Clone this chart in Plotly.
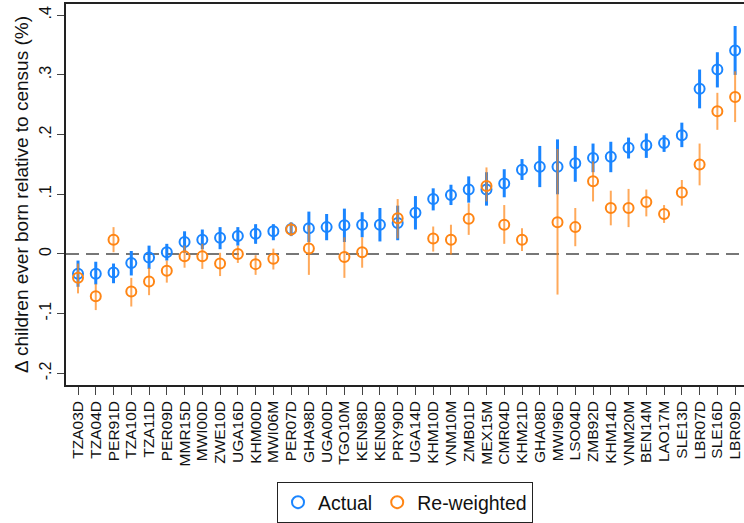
import numpy as np
import plotly.graph_objects as go

# Survey codes, ordered by the actual gap
surveys = ["TZA03D", "TZA04D", "PER91D", "TZA10D", "TZA11D", "PER09D", "MMR15D",
           "MWI00D", "ZWE10D", "UGA16D", "KHM00D", "MWI06M", "PER07D", "GHA98D",
           "UGA00D", "TGO10M", "KEN98D", "KEN08D", "PRY90D", "UGA14D", "KHM10D",
           "VNM10M", "ZMB01D", "MEX15M", "CMR04D", "KHM21D", "GHA08D", "MWI96D",
           "LSO04D", "ZMB92D", "KHM14D", "VNM20M", "BEN14M", "LAO17M", "SLE13D",
           "LBR07D", "SLE16D", "LBR09D"]

# Actual difference with confidence interval
actual = [-0.033, -0.033, -0.031, -0.015, -0.006, 0.003, 0.020, 0.024, 0.027, 0.030,
          0.034, 0.038, 0.042, 0.043, 0.045, 0.048, 0.049, 0.049, 0.052, 0.069,
          0.092, 0.099, 0.108, 0.108, 0.118, 0.141, 0.146, 0.146, 0.152, 0.161,
          0.163, 0.178, 0.182, 0.186, 0.199, 0.277, 0.309, 0.341]
actual_lo = [-0.055, -0.051, -0.049, -0.036, -0.025, -0.011, 0.002, 0.008, 0.008, 0.014,
             0.017, 0.023, 0.030, 0.020, 0.023, 0.020, 0.028, 0.021, 0.023, 0.041,
             0.073, 0.082, 0.086, 0.081, 0.095, 0.124, 0.112, 0.100, 0.121, 0.137,
             0.137, 0.160, 0.161, 0.171, 0.179, 0.244, 0.279, 0.300]
actual_hi = [-0.011, -0.013, -0.016, 0.005, 0.014, 0.017, 0.038, 0.041, 0.045, 0.045,
             0.050, 0.050, 0.053, 0.071, 0.067, 0.076, 0.070, 0.077, 0.081, 0.097,
             0.110, 0.116, 0.130, 0.137, 0.142, 0.159, 0.181, 0.192, 0.181, 0.185,
             0.188, 0.195, 0.202, 0.199, 0.220, 0.309, 0.338, 0.382]

# Re-weighted difference with confidence interval (None = not available)
reweighted = [-0.040, -0.071, 0.024, -0.063, -0.046, -0.028, -0.004, -0.004, -0.016, 0.000,
              -0.017, -0.008, 0.041, 0.009, None, -0.005, 0.003, None, 0.060, None,
              0.026, 0.024, 0.059, 0.114, 0.049, 0.024, None, 0.053, 0.045, 0.122,
              0.077, 0.077, 0.087, 0.067, 0.103, 0.150, 0.239, 0.263]
reweighted_lo = [-0.066, -0.094, 0.003, -0.088, -0.069, -0.048, -0.023, -0.025, -0.037, -0.015,
                 -0.035, -0.026, 0.030, -0.035, None, -0.040, -0.023, None, 0.026, None,
                 0.004, -0.001, 0.032, 0.088, 0.017, 0.005, None, -0.068, 0.013, 0.088,
                 0.048, 0.045, 0.063, 0.052, 0.081, 0.115, 0.208, 0.221]
reweighted_hi = [-0.016, -0.050, 0.045, -0.040, -0.023, -0.011, 0.014, 0.017, 0.002, 0.014,
                 -0.002, 0.009, 0.053, 0.048, None, 0.028, 0.028, None, 0.092, None,
                 0.046, 0.049, 0.085, 0.145, 0.082, 0.043, None, 0.176, 0.077, 0.155,
                 0.106, 0.109, 0.108, 0.082, 0.124, 0.185, 0.270, 0.306]

y_ticks = [-0.2, -0.1, 0.0, 0.1, 0.2, 0.3, 0.4]
y_tick_text = ["-.2", "-.1", "0", ".1", ".2", ".3", ".4"]

BLUE = "#1A85FF"
ORANGE = "#FF8514"


def arr(v):
    return np.array([np.nan if x is None else x for x in v], dtype=float)


a, a_lo, a_hi = arr(actual), arr(actual_lo), arr(actual_hi)
r, r_lo, r_hi = arr(reweighted), arr(reweighted_lo), arr(reweighted_hi)

fig = go.Figure()
fig.add_trace(go.Scatter(
    x=surveys, y=a, mode="markers", name="Actual",
    marker=dict(symbol="circle-open", size=10, color=BLUE, line=dict(width=2, color=BLUE)),
    error_y=dict(type="data", symmetric=False, array=a_hi - a, arrayminus=a - a_lo,
                 color=BLUE, thickness=3, width=0),
))
fig.add_trace(go.Scatter(
    x=surveys, y=r, mode="markers", name="Re-weighted",
    marker=dict(symbol="circle-open", size=10, color=ORANGE, line=dict(width=2, color=ORANGE)),
    error_y=dict(type="data", symmetric=False, array=r_hi - r, arrayminus=r - r_lo,
                 color="rgba(255,133,20,0.7)", thickness=2, width=0),
))

# Zero reference line
fig.add_shape(type="line", xref="paper", x0=0, x1=1, yref="y", y0=0, y1=0,
              line=dict(color="#777777", width=2, dash="13px,7px"), layer="below")

fig.update_layout(
    width=744, height=523,
    margin=dict(l=66, r=0, t=4, b=136),
    paper_bgcolor="white", plot_bgcolor="white",
    font=dict(family="Liberation Sans, Arial, sans-serif", color="#111111"),
    showlegend=True,
    legend=dict(orientation="h", x=0.5, xanchor="center", y=-0.255, yanchor="top",
                font=dict(size=19.5), bordercolor="#222222", borderwidth=1,
                itemsizing="constant"),
)
fig.update_xaxes(
    type="category", categoryorder="array", categoryarray=surveys,
    tickmode="array", tickvals=surveys, ticktext=surveys,
    range=[-0.676, 37.5], showgrid=False, zeroline=False,
    showline=True, linecolor="#222222", linewidth=1.5, mirror=True,
    ticks="outside", ticklen=8, tickcolor="#444444", tickwidth=1,
    tickangle=-90, tickfont=dict(size=15.5),
)
fig.update_yaxes(
    range=[-0.2195, 0.4188], showgrid=False, zeroline=False,
    showline=True, linecolor="#222222", linewidth=1.5,
    ticks="outside", ticklen=7, tickcolor="#444444", tickwidth=1,
    tickvals=y_ticks, ticktext=y_tick_text, tickangle=-90, tickfont=dict(size=16),
    title=dict(text="Δ children ever born relative to census (%)", font=dict(size=19),
               standoff=3),
)

fig.write_html("out.html")
